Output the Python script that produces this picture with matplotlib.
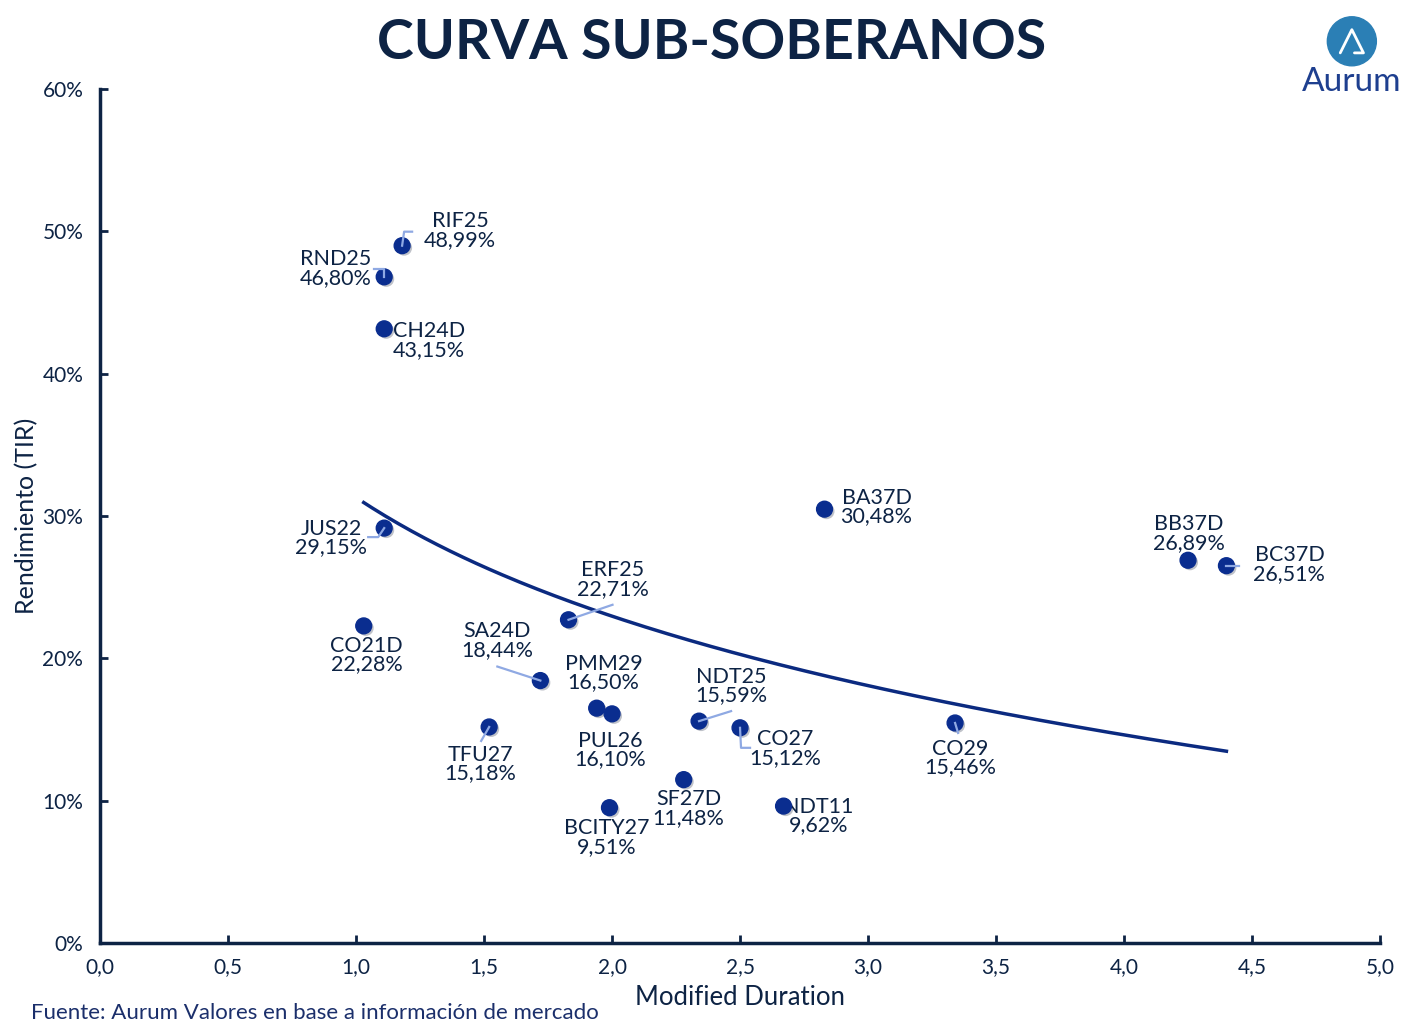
import numpy as np
import matplotlib.pyplot as plt
from matplotlib.ticker import FuncFormatter
from matplotlib.patches import Circle
from matplotlib.lines import Line2D
from matplotlib.transforms import IdentityTransform
import matplotlib.patheffects as pe

plt.rcParams['font.family'] = ['Lato', 'DejaVu Sans']

names = ["RIF25", "RND25", "CH24D", "JUS22", "CO21D", "SA24D", "ERF25", "TFU27",
         "PMM29", "PUL26", "BCITY27", "SF27D", "NDT25", "CO27", "NDT11", "BA37D",
         "CO29", "BB37D", "BC37D"]
duration = [1.18, 1.11, 1.11, 1.11, 1.03, 1.72, 1.83, 1.52,
            1.94, 2.00, 1.99, 2.28, 2.34, 2.50, 2.67, 2.83,
            3.34, 4.25, 4.40]
tir = [48.99, 46.80, 43.15, 29.15, 22.28, 18.44, 22.71, 15.18,
       16.50, 16.10, 9.51, 11.48, 15.59, 15.12, 9.62, 30.48,
       15.46, 26.89, 26.51]

# label offsets in pixels (dx, dy) from the point
offsets = {
    "RIF25": (58, 15), "RND25": (-49, 8), "CH24D": (45, -12),
    "JUS22": (-53, -10), "CO21D": (3, -29), "SA24D": (-43, 40),
    "ERF25": (44, 40), "TFU27": (-9, -37), "PMM29": (7, 35),
    "PUL26": (-2, -36), "BCITY27": (-3, -30), "SF27D": (5, -29),
    "NDT25": (32, 35), "CO27": (45, -21), "NDT11": (35, -10),
    "BA37D": (52, 2), "CO29": (5, -35), "BB37D": (1, 27),
    "BC37D": (63, 1),
}
# leader line vertices in pixels relative to the point
leaders = {
    "RIF25": [(0, 0), (2, 14), (10, 14)],
    "RND25": [(0, 0), (0, 8), (-10, 8)],
    "JUS22": [(0, 0), (-6, -9), (-16, -9)],
    "SA24D": [(0, 0), (-43, 14)],
    "ERF25": [(0, 0), (44, 15)],
    "TFU27": [(0, 0), (-8, -14)],
    "NDT25": [(0, 0), (32, 10)],
    "CO27": [(0, 0), (1, -20), (10, -20)],
    "CO29": [(0, 0), (3, -10)],
    "BC37D": [(0, 0), (13, 0)],
}

navy = "#0d2344"
dot = "#0a2d8f"
leader_col = "#8fa9e3"

fig = plt.figure(figsize=(14.23, 10.32), dpi=100)
ax = fig.add_axes([0.0703, 0.0862, 0.8995, 0.8276])

ax.set_xlim(0, 5)
ax.set_ylim(0, 60)

# logarithmic trend line fitted to the data
x = np.array(duration)
y = np.array(tir)
b, a = np.polyfit(np.log(x), y, 1)
xs = np.linspace(x.min(), x.max(), 200)
ax.plot(xs, a + b * np.log(xs), color="#0b2a80", lw=2.5, zorder=2)

shadow = [pe.SimplePatchShadow(offset=(1.5, -1.5), alpha=0.25), pe.Normal()]
ax.scatter(duration, tir, s=130, color=dot, zorder=4, path_effects=shadow)

pt = 72 / fig.dpi
for n, xv, yv in zip(names, duration, tir):
    dx, dy = offsets[n]
    txt = f"{n}\n{yv:.2f}%".replace(".", ",")
    ax.annotate(txt, (xv, yv), xytext=(dx * pt, dy * pt), textcoords="offset points",
                ha="center", va="center", fontsize=15.5, color=navy, linespacing=0.92,
                zorder=3)
    if n in leaders:
        px, py = ax.transData.transform((xv, yv))
        vx = [px + v[0] for v in leaders[n]]
        vy = [py + v[1] for v in leaders[n]]
        fig.add_artist(Line2D(vx, vy, transform=IdentityTransform(), color=leader_col,
                              lw=1.6, zorder=5))

ax.set_xticks(np.arange(0, 5.01, 0.5))
ax.set_yticks(np.arange(0, 61, 10))
ax.xaxis.set_major_formatter(FuncFormatter(lambda v, p: f"{v:.1f}".replace(".", ",")))
ax.yaxis.set_major_formatter(FuncFormatter(lambda v, p: f"{v:.0f}%"))
ax.tick_params(direction="in", length=6, width=2, color=navy, labelcolor=navy, labelsize=15)
ax.tick_params(axis="x", pad=10)
ax.tick_params(axis="y", pad=12)
for side in ["top", "right"]:
    ax.spines[side].set_visible(False)
for side in ["left", "bottom"]:
    ax.spines[side].set_color(navy)
    ax.spines[side].set_linewidth(2.5)

ax.set_xlabel("Modified Duration", fontsize=18.5, color=navy, labelpad=6)
ax.set_ylabel("Rendimiento (TIR)", fontsize=18, color=navy, labelpad=3)

fig.text(0.5, 0.958, "CURVA SUB-SOBERANOS", ha="center", va="center",
         fontsize=40, fontweight="bold", color=navy)
fig.text(0.022, 0.018, "Fuente: Aurum Valores en base a información de mercado",
         ha="left", va="center", fontsize=16, color="#1b2f6b")

# logo
logo = fig.add_axes([0.925, 0.935, 0.05, 0.05])
logo.set_xlim(-1, 1)
logo.set_ylim(-1, 1)
logo.set_aspect("equal")
logo.axis("off")
logo.add_patch(Circle((0, 0), 0.95, color="#2b7fb5"))
logo.plot([-0.45, 0.0, 0.45, 0.1], [-0.45, 0.45, -0.45, -0.45], color="white", lw=2,
          solid_capstyle="round", solid_joinstyle="round")
fig.text(0.95, 0.921, "Aurum", ha="center", va="center", fontsize=24, color="#1e3f8f")

fig.savefig("out.png", dpi=100)
